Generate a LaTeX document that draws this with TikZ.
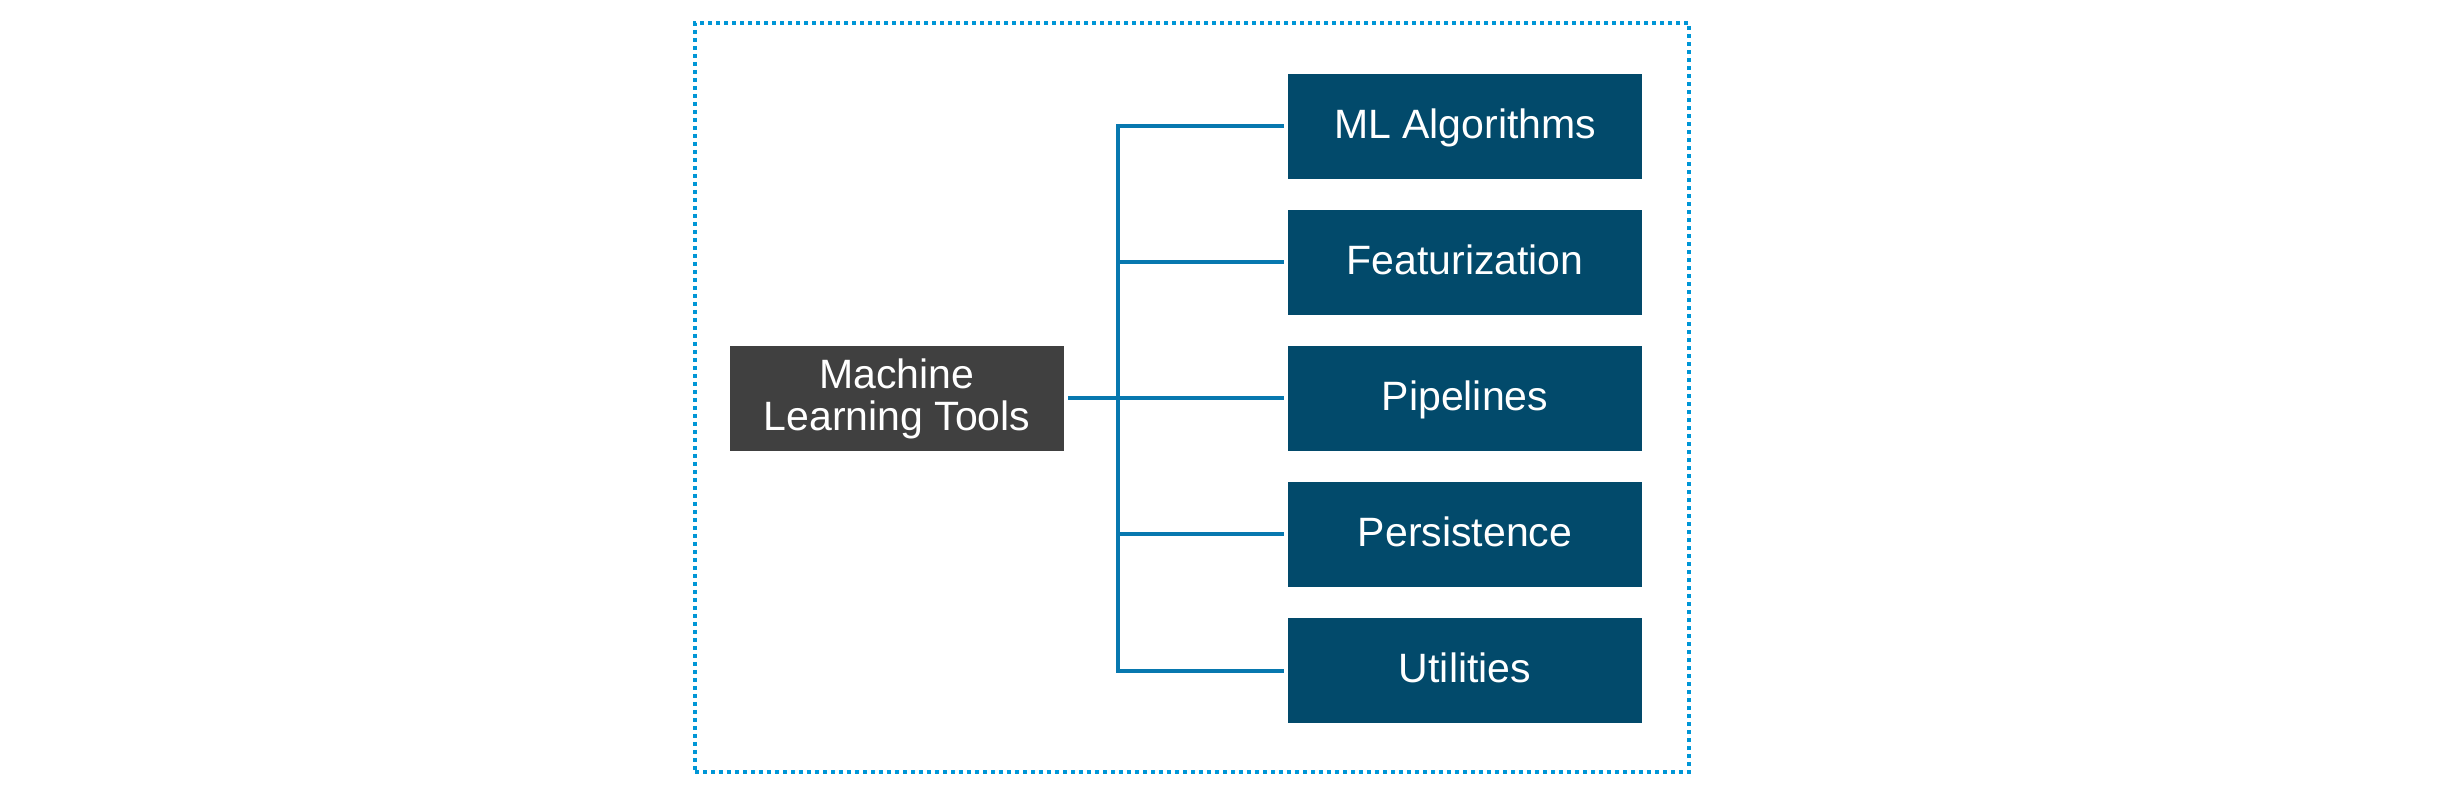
\documentclass[tikz,border=0pt]{standalone}
\usepackage{fontspec}
\setmainfont{Liberation Sans}
\definecolor{boxblue}{HTML}{024A6B}
\definecolor{boxgrey}{HTML}{404040}
\definecolor{connblue}{HTML}{0778AF}
\definecolor{framblue}{HTML}{0096D6}
\begin{document}
\begin{tikzpicture}[x=0.5pt,y=-0.5pt,
  every node/.style={inner sep=0pt, outer sep=0pt},
  lbl/.style={font=\fontsize{20.5pt}{21pt}\selectfont, text=white},
  leafbox/.style={lbl, rectangle, fill=boxblue, minimum width=177pt, minimum height=52.5pt, text height=14.68pt, text depth=3pt},
  rootbox/.style={lbl, rectangle, fill=boxgrey, minimum width=167pt, minimum height=52.5pt, align=center},
  framebox/.style={rectangle, draw=framblue, line width=2pt, dash pattern=on 2pt off 2pt, minimum width=497pt, minimum height=374.5pt},
  conn/.style={draw=connblue, line width=2pt}]
\useasboundingbox (0,0) rectangle (2451,790);
\node[framebox] (frame) at (1192,397.5) {};
\node[rootbox] (m) at (897,398.5) {Machine\\Learning Tools};
\node[leafbox] (b1) at (1465,126.5) {ML Algorithms};
\node[leafbox] (b2) at (1465,262.5) {Featurization};
\node[leafbox] (b3) at (1465,398.5) {Pipelines};
\node[leafbox] (b4) at (1465,534.5) {Persistence};
\node[leafbox] (b5) at (1465,670.5) {Utilities};
\coordinate (trunk) at (1118,398.5);
\draw[conn, shorten <=2pt] (m.east) -- (trunk);
\draw[conn, shorten <=2pt, shorten >=2pt] (b1.west) -- (trunk |- b1.west) -- (trunk |- b5.west) -- (b5.west);
\foreach \b in {b2,b3,b4}{
  \draw[conn, shorten >=2pt] (trunk |- \b.west) -- (\b.west);
}
\end{tikzpicture}
\end{document}
